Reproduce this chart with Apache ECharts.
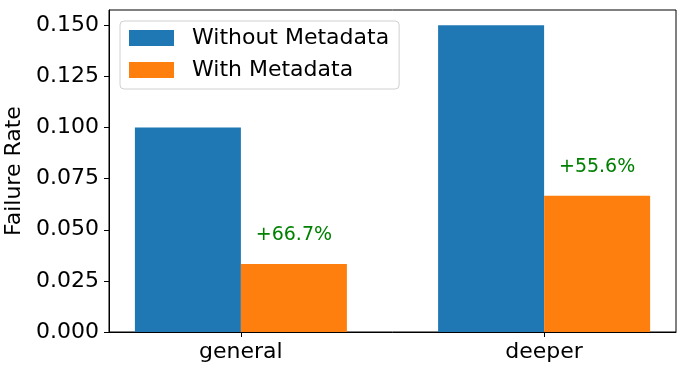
<!DOCTYPE html>
<html>
<head>
<meta charset="utf-8">
<script src="https://cdn.jsdelivr.net/npm/echarts@6/dist/echarts.min.js"></script>
<style>
  html, body { margin: 0; padding: 0; background: #fff; }
  #main { width: 686px; height: 372px; }
</style>
</head>
<body>
<div id="main"></div>
<script>
// data
var categories = ['general', 'deeper'];
var withoutMeta = [0.100, 0.150];
var withMeta = [0.0333, 0.0667];
var changeLabels = ['+66.7%', '+55.6%'];
var yTicks = [0, 0.025, 0.05, 0.075, 0.1, 0.125, 0.15];

var font = 'DejaVu Sans';
var chart = echarts.init(document.getElementById('main'));

function toPoints(vals){
  return vals.map(function(v, i){ return [i, v]; });
}

var option = {
  animation: false,
  backgroundColor: '#fff',
  textStyle: { fontFamily: font },
  grid: {
    left: 109, right: 10, top: 10, bottom: 40,
    containLabel: false,
    outerBoundsMode: 'none',
    show: true, borderColor: '#000', borderWidth: 1
  },
  legend: {
    orient: 'vertical',
    left: 120, top: 21,
    itemWidth: 45, itemHeight: 16, itemGap: 10,
    padding: [6, 10, 8, 9],
    borderColor: '#d0d0d0', borderWidth: 1, borderRadius: 4,
    backgroundColor: 'rgba(255,255,255,0.8)',
    icon: 'rect',
    textStyle: { fontFamily: font, fontSize: 22, color: '#000', lineHeight: 22, padding: [0, 0, 0, 13] },
    data: ['Without Metadata', 'With Metadata']
  },
  xAxis: {
    type: 'value',
    min: -0.435, max: 1.435,
    splitLine: { show: false },
    axisLine: { show: true, onZero: false, lineStyle: { color: '#000', width: 1 } },
    axisTick: { show: true, length: 5, customValues: [0, 1], lineStyle: { color: '#000' } },
    axisLabel: {
      customValues: [0, 1],
      margin: 9,
      fontFamily: font, fontSize: 22, color: '#000',
      formatter: function(v){ return categories[Math.round(v)] || ''; }
    }
  },
  yAxis: {
    type: 'value',
    min: 0, max: 0.1575,
    name: 'Failure Rate',
    nameLocation: 'middle',
    nameRotate: 90,
    nameGap: 80,
    nameTextStyle: { fontFamily: font, fontSize: 22, color: '#000' },
    splitLine: { show: false },
    axisLine: { show: true, onZero: false, lineStyle: { color: '#000', width: 1 } },
    axisTick: { show: true, length: 5, customValues: yTicks, lineStyle: { color: '#000' } },
    axisLabel: {
      customValues: yTicks,
      margin: 10,
      fontFamily: font, fontSize: 22, color: '#000',
      formatter: function(v){ return v.toFixed(3); }
    }
  },
  series: [
    {
      name: 'Without Metadata',
      type: 'bar',
      barWidth: 106,
      barGap: '0%',
      itemStyle: { color: '#1f77b4' },
      data: toPoints(withoutMeta)
    },
    {
      name: 'With Metadata',
      type: 'bar',
      barWidth: 106,
      barGap: '0%',
      itemStyle: { color: '#ff7f0e' },
      label: {
        show: true,
        position: 'top',
        distance: 19,
        fontFamily: font, fontSize: 19, color: '#008000',
        formatter: function(p){ return changeLabels[p.dataIndex]; }
      },
      data: toPoints(withMeta)
    }
  ]
};

chart.setOption(option);
</script>
</body>
</html>
